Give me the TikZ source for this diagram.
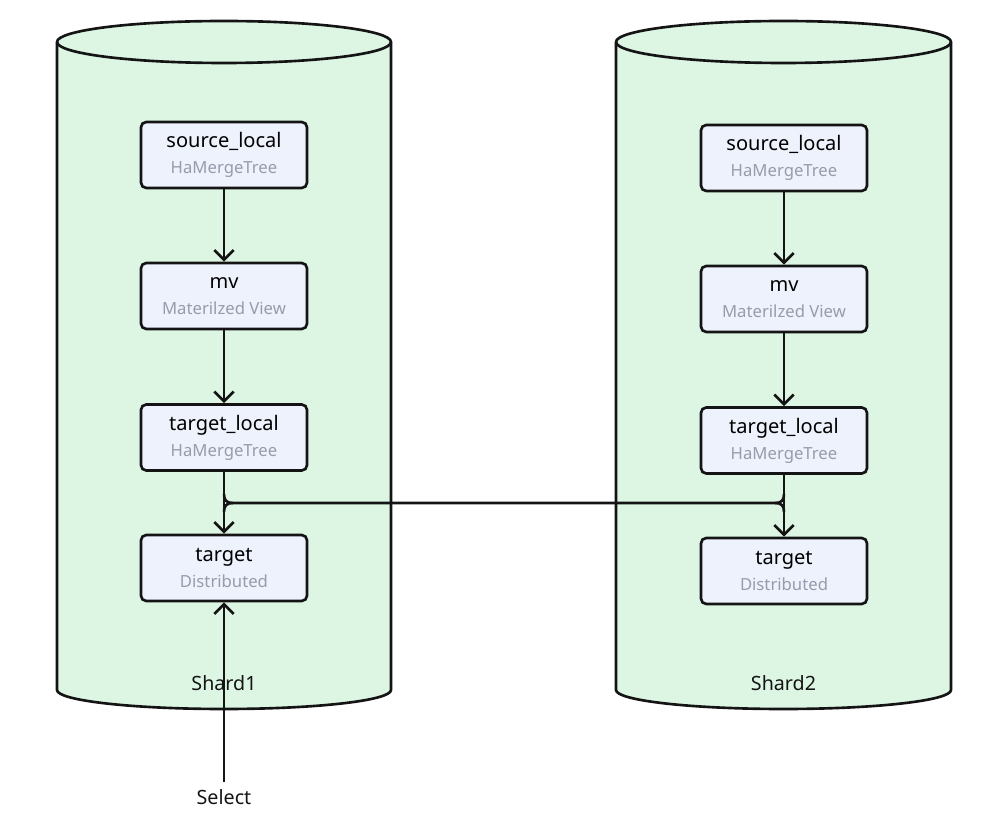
\documentclass[tikz,border=0pt]{standalone}
\usepackage{fontspec}
\setmainfont{Noto Sans}
\usetikzlibrary{arrows.meta,positioning}
\definecolor{shardfill}{RGB}{221,245,227}
\definecolor{boxfill}{RGB}{238,242,252}
\definecolor{subgrey}{RGB}{150,156,172}
\definecolor{inkdark}{RGB}{20,20,20}

\tikzset{
  tbl/.style={draw=inkdark, line width=1.5pt, rounded corners=3pt, fill=boxfill,
    minimum width=3.32cm, minimum height=1.32cm, align=center,
    font=\fontsize{11.4}{14.8}\selectfont},
  flow/.style={draw=inkdark, line width=1.5pt, -{Straight Barb[length=5.5pt,width=11pt]}},
  link/.style={draw=inkdark, line width=1.5pt},
  shardwall/.style={draw=inkdark, line width=1.5pt, fill=shardfill},
  caption/.style={font=\fontsize{11.2}{13}\selectfont, text=inkdark},
}
\newcommand{\sublabel}[1]{{\color{subgrey}\fontsize{9.5}{11}\selectfont #1}}

\begin{document}
\begin{tikzpicture}
    \useasboundingbox (0,0) rectangle (19.92,-16.64);

    % Cylinder for Shard1
    \draw[shardwall] (1.14,-0.84) -- (1.14,-13.8)
      arc[start angle=180, end angle=360, x radius=3.34, y radius=0.38]
      -- (7.82,-0.84)
      arc[start angle=0, end angle=180, x radius=3.34, y radius=0.42];
    \draw[link] (1.14,-0.84) arc[start angle=180, end angle=360, x radius=3.34, y radius=0.42];
    \node[caption] (shard1) at (4.48,-13.66) {Shard1};

    % Cylinder for Shard2
    \draw[shardwall] (12.32,-0.84) -- (12.32,-13.8)
      arc[start angle=180, end angle=360, x radius=3.35, y radius=0.38]
      -- (19.02,-0.84)
      arc[start angle=0, end angle=180, x radius=3.35, y radius=0.42];
    \draw[link] (12.32,-0.84) arc[start angle=180, end angle=360, x radius=3.35, y radius=0.42];
    \node[caption] (shard2) at (15.67,-13.66) {Shard2};

    % Tables on Shard1
    \node[tbl] (src1) at (4.48,-3.10) {source\_local\\\sublabel{HaMergeTree}};
    \node[tbl] (mv1) at (4.48,-5.92) {mv\\\sublabel{Materilzed View}};
    \node[tbl] (tl1) at (4.48,-8.75) {target\_local\\\sublabel{HaMergeTree}};
    \node[tbl] (tgt1) at (4.48,-11.36) {target\\\sublabel{Distributed}};

    % Tables on Shard2
    \node[tbl] (src2) at (15.68,-3.16) {source\_local\\\sublabel{HaMergeTree}};
    \node[tbl] (mv2) at (15.68,-5.98) {mv\\\sublabel{Materilzed View}};
    \node[tbl] (tl2) at (15.68,-8.81) {target\_local\\\sublabel{HaMergeTree}};
    \node[tbl] (tgt2) at (15.68,-11.42) {target\\\sublabel{Distributed}};

    % Flow inside each shard
    \draw[flow] (src1) -- (mv1);
    \draw[flow] (mv1) -- (tl1);
    \draw[flow] (tl1) -- (tgt1);
    \draw[flow] (src2) -- (mv2);
    \draw[flow] (mv2) -- (tl2);
    \draw[flow] (tl2) -- (tgt2);

    % Line joining both shards
    \coordinate (jl) at (4.48,-10.06);
    \coordinate (jr) at (15.68,-10.06);
    \draw[link] ([yshift=5pt]jl) .. controls ([yshift=1.5pt]jl) and ([xshift=1.5pt]jl) .. ([xshift=5pt]jl)
      -- ([xshift=-5pt]jr) .. controls ([xshift=-1.5pt]jr) and ([yshift=1.5pt]jr) .. ([yshift=5pt]jr);
    \draw[link] ([yshift=-5pt]jl) .. controls ([yshift=-1.5pt]jl) and ([xshift=1.5pt]jl) .. ([xshift=5pt]jl);
    \draw[link] ([yshift=-5pt]jr) .. controls ([yshift=-1.5pt]jr) and ([xshift=-1.5pt]jr) .. ([xshift=-5pt]jr);

    % Query entry
    \node[caption, inner sep=4pt] (select) at (4.48,-15.94) {Select};
    \draw[flow] (select.north) -- (tgt1.south);
\end{tikzpicture}
\end{document}
